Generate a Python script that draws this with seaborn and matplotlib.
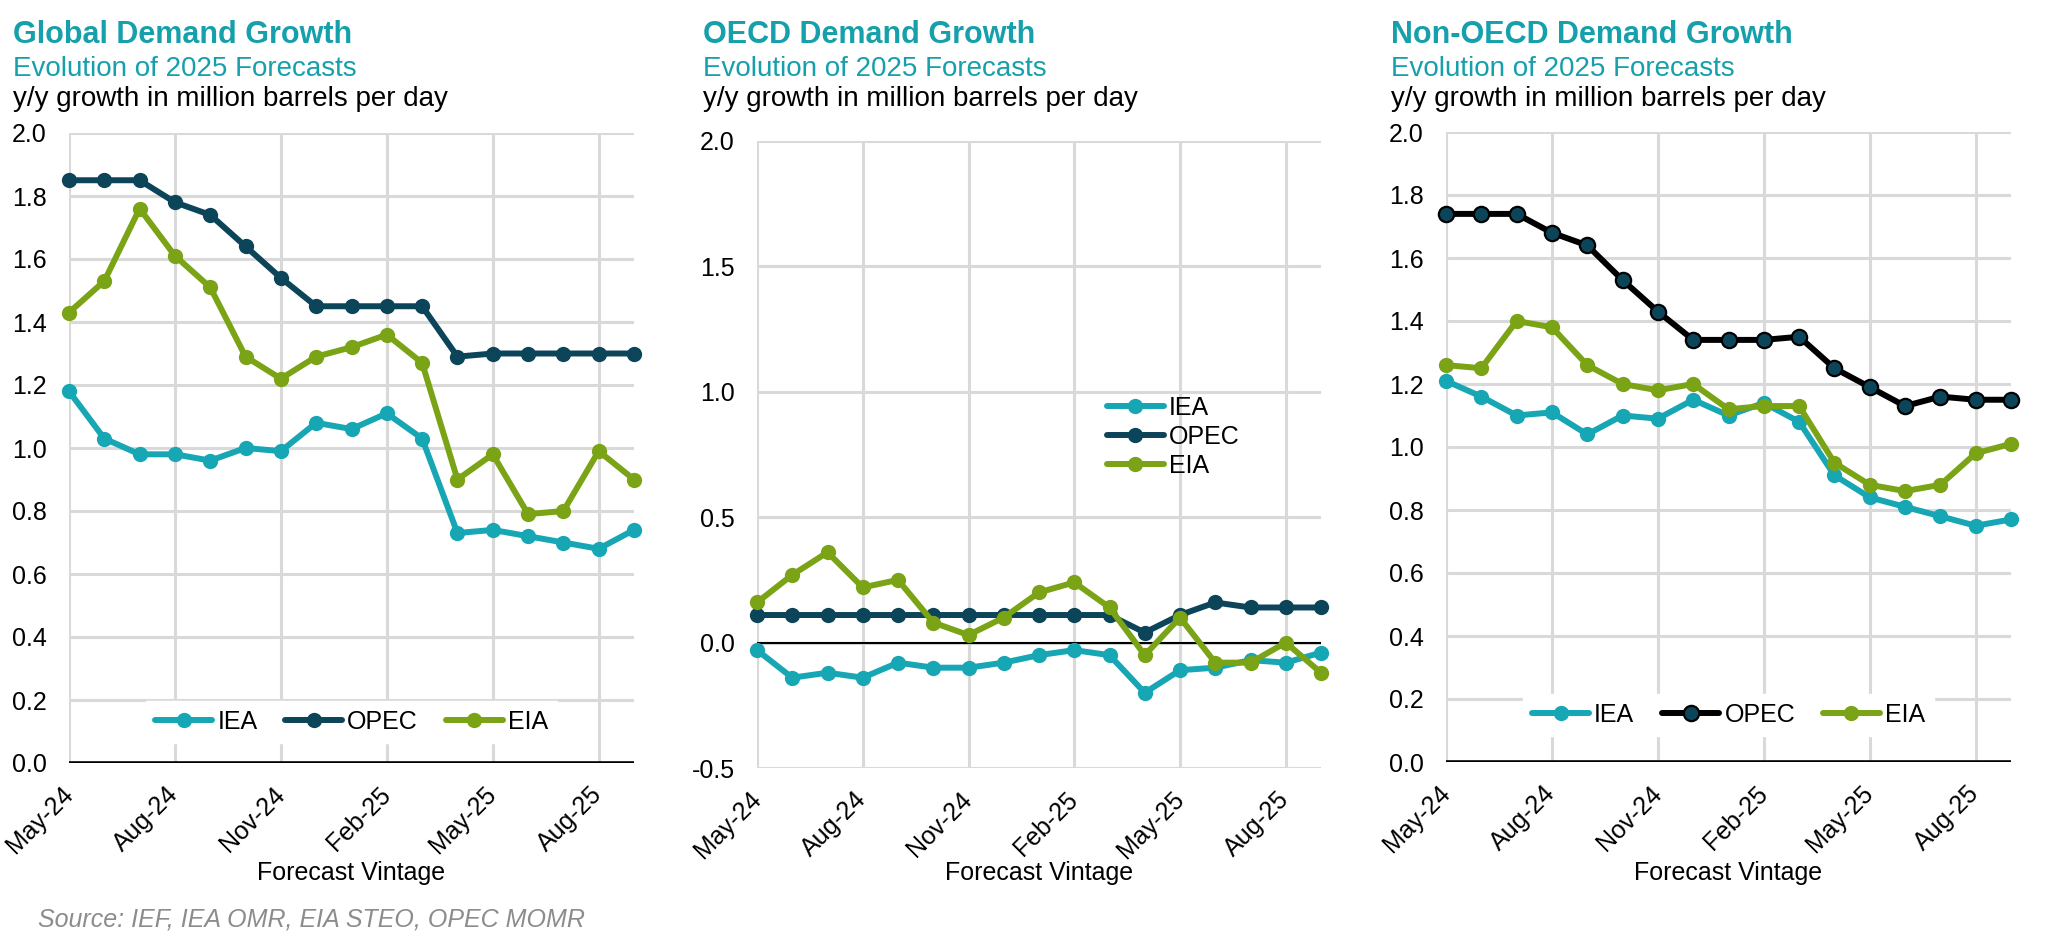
import matplotlib
matplotlib.use('Agg')
import matplotlib.pyplot as plt
import seaborn as sns
import pandas as pd

# ---------------- data ----------------
months = ['May-24', 'Jun-24', 'Jul-24', 'Aug-24', 'Sep-24', 'Oct-24', 'Nov-24', 'Dec-24',
          'Jan-25', 'Feb-25', 'Mar-25', 'Apr-25', 'May-25', 'Jun-25', 'Jul-25', 'Aug-25', 'Sep-25']
tick_labels = ['May-24', 'Aug-24', 'Nov-24', 'Feb-25', 'May-25', 'Aug-25']

global_iea = [1.18, 1.03, 0.98, 0.98, 0.96, 1.00, 0.99, 1.08, 1.06, 1.11, 1.03, 0.73, 0.74, 0.72, 0.70, 0.68, 0.74]
global_opec = [1.85, 1.85, 1.85, 1.78, 1.74, 1.64, 1.54, 1.45, 1.45, 1.45, 1.45, 1.29, 1.30, 1.30, 1.30, 1.30, 1.30]
global_eia = [1.43, 1.53, 1.76, 1.61, 1.51, 1.29, 1.22, 1.29, 1.32, 1.36, 1.27, 0.90, 0.98, 0.79, 0.80, 0.99, 0.90]

oecd_iea = [-0.03, -0.14, -0.12, -0.14, -0.08, -0.10, -0.10, -0.08, -0.05, -0.03, -0.05, -0.20, -0.11, -0.10, -0.07, -0.08, -0.04]
oecd_opec = [0.11, 0.11, 0.11, 0.11, 0.11, 0.11, 0.11, 0.11, 0.11, 0.11, 0.11, 0.04, 0.11, 0.16, 0.14, 0.14, 0.14]
oecd_eia = [0.16, 0.27, 0.36, 0.22, 0.25, 0.08, 0.03, 0.10, 0.20, 0.24, 0.14, -0.05, 0.10, -0.08, -0.08, 0.00, -0.12]

nonoecd_iea = [1.21, 1.16, 1.10, 1.11, 1.04, 1.10, 1.09, 1.15, 1.10, 1.14, 1.08, 0.91, 0.84, 0.81, 0.78, 0.75, 0.77]
nonoecd_opec = [1.74, 1.74, 1.74, 1.68, 1.64, 1.53, 1.43, 1.34, 1.34, 1.34, 1.35, 1.25, 1.19, 1.13, 1.16, 1.15, 1.15]
nonoecd_eia = [1.26, 1.25, 1.40, 1.38, 1.26, 1.20, 1.18, 1.20, 1.12, 1.13, 1.13, 0.95, 0.88, 0.86, 0.88, 0.98, 1.01]

titles = ['Global Demand Growth', 'OECD Demand Growth', 'Non-OECD Demand Growth']
subtitle = 'Evolution of 2025 Forecasts'
unit_label = 'y/y growth in million barrels per day'
xlabel = 'Forecast Vintage'
source = 'Source: IEF, IEA OMR, EIA STEO, OPEC MOMR'

# ---------------- style ----------------
sns.set_theme(style='white')
plt.rcParams['font.family'] = ['Liberation Sans', 'DejaVu Sans']

C_IEA = '#17A6B4'
C_OPEC = '#0C4459'
C_EIA = '#7AA315'
C_TITLE = '#16A0AC'
C_GRID = '#D9D9D9'

FS_TITLE = 22
FS_SUB = 20
FS_TICK = 18
FS_LEG = 18
FS_XLAB = 18
FS_SRC = 18
LW = 4.3
MS = 11

fig = plt.figure(figsize=(20.52, 9.40), dpi=100)
W, H = 2052.0, 940.0


def rect(l, r, t, b):
    return [l / W, 1 - b / H, (r - l) / W, (b - t) / H]


panels = [
    dict(rect=rect(69, 634, 133, 763), data=(global_iea, global_opec, global_eia),
         ylim=(0, 2.0), yticks=[0.0, 0.2, 0.4, 0.6, 0.8, 1.0, 1.2, 1.4, 1.6, 1.8, 2.0],
         zero_lw=2.6, opec_line=C_OPEC, tx=13,
         legend=dict(loc='center', bbox_to_anchor=(0.5, 0.065), ncol=3, frameon=True)),
    dict(rect=rect(757, 1321, 141, 768), data=(oecd_iea, oecd_opec, oecd_eia),
         ylim=(-0.5, 2.0), yticks=[-0.5, 0.0, 0.5, 1.0, 1.5, 2.0],
         zero_lw=1.5, opec_line=C_OPEC, tx=703,
         legend=dict(loc='center', bbox_to_anchor=(0.738, 0.528), ncol=1, frameon=False)),
    dict(rect=rect(1446, 2011, 132, 762), data=(nonoecd_iea, nonoecd_opec, nonoecd_eia),
         ylim=(0, 2.0), yticks=[0.0, 0.2, 0.4, 0.6, 0.8, 1.0, 1.2, 1.4, 1.6, 1.8, 2.0],
         zero_lw=2.6, opec_line='black', tx=1391,
         legend=dict(loc='center', bbox_to_anchor=(0.5, 0.075), ncol=3, frameon=True)),
]

for p, title in zip(panels, titles):
    ax = fig.add_axes(p['rect'])
    iea, opec, eia = p['data']
    df = pd.DataFrame({'idx': list(range(len(months))), 'month': months,
                       'IEA': iea, 'OPEC': opec, 'EIA': eia})
    series = [('IEA', C_IEA, C_IEA, C_IEA, 0),
              ('OPEC', p['opec_line'], C_OPEC, p['opec_line'], 1.6 if p['opec_line'] == 'black' else 0),
              ('EIA', C_EIA, C_EIA, C_EIA, 0)]
    for i, (name, lc, mfc, mec, mew) in enumerate(series):
        sns.lineplot(data=df, x='idx', y=name, ax=ax, color=lc, linewidth=LW,
                     marker='o', markersize=MS, markerfacecolor=mfc,
                     markeredgecolor=mec, markeredgewidth=mew, label=name,
                     clip_on=False, zorder=3 + i)
    ax.set_xlim(0, len(months) - 1)
    ax.set_ylim(*p['ylim'])
    ax.set_yticks(p['yticks'])
    ax.set_yticklabels([f'{v:.1f}' for v in p['yticks']])
    ax.set_xticks([months.index(t) for t in tick_labels])
    ax.set_xticklabels(tick_labels, rotation=45, ha='right', va='center',
                       rotation_mode='anchor')
    ax.tick_params(axis='both', length=0, labelsize=FS_TICK, colors='black')
    ax.tick_params(axis='y', pad=16)
    ax.tick_params(axis='x', pad=20)
    ax.grid(True, color=C_GRID, linewidth=2.2)
    ax.set_axisbelow(True)
    for s in ax.spines.values():
        s.set_visible(False)
    ax.axhline(0, color='black', linewidth=p['zero_lw'], zorder=2)
    ax.set_ylabel('')
    ax.set_xlabel(xlabel, fontsize=FS_XLAB, color='black')
    ax.xaxis.label.set_va('center')
    bottom_px = H - p['rect'][1] * H
    height_px = p['rect'][3] * H
    ax.xaxis.set_label_coords(0.5, -(873 - bottom_px) / height_px)

    lg = ax.legend(fontsize=FS_LEG, handlelength=2.3, handletextpad=0.2,
                   columnspacing=1.1, labelspacing=0.2, borderpad=0.35,
                   framealpha=1, facecolor='white', edgecolor='white',
                   fancybox=False, **p['legend'])
    for t in lg.get_texts():
        t.set_color('black')

    fig.text(p['tx'] / W, 1 - 43 / H, title, fontsize=FS_TITLE, fontweight='bold',
             color=C_TITLE, ha='left', va='baseline')
    fig.text(p['tx'] / W, 1 - 76 / H, subtitle, fontsize=FS_SUB,
             color=C_TITLE, ha='left', va='baseline')
    fig.text(p['tx'] / W, 1 - 106 / H, unit_label, fontsize=FS_SUB,
             color='black', ha='left', va='baseline')

fig.text(38 / W, 1 - 927 / H, source, fontsize=FS_SRC, style='italic',
         color='#8C8C8C', ha='left', va='baseline')

fig.savefig('out.png', dpi=100, facecolor='white')
